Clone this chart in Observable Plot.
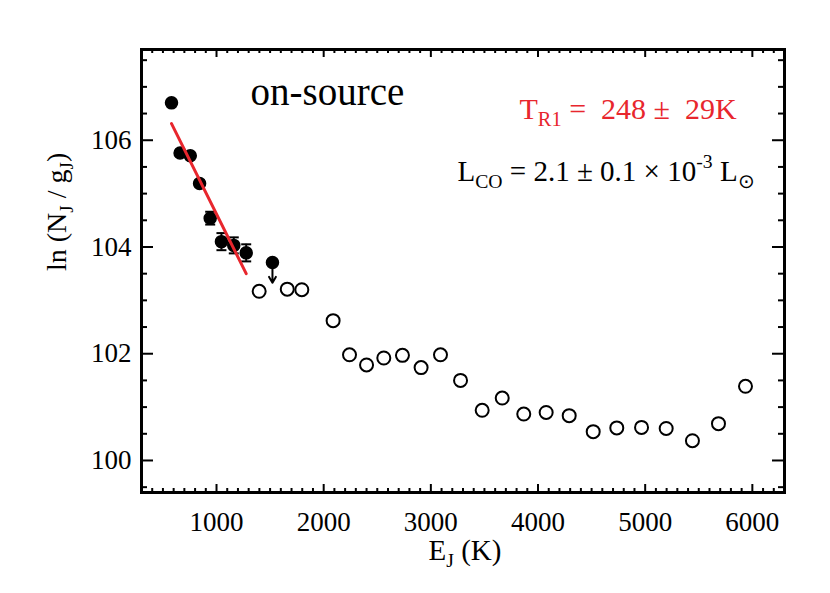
<!DOCTYPE html>
<html><head><meta charset="utf-8">
<script src="https://cdn.jsdelivr.net/npm/d3@7"></script>
<script src="https://cdn.jsdelivr.net/npm/@observablehq/plot@0.6"></script>
<style>body{margin:0;background:#fff}</style>
</head><body><div id="chart"></div>
<script>
// Detected lines (filled) with error bars
const detX = [580, 660, 755, 842, 941, 1046, 1161, 1277];
const detY = [106.70, 105.76, 105.71, 105.19, 104.54, 104.10, 104.03, 103.89];
const detErr = [0.04, 0.04, 0.04, 0.06, 0.12, 0.16, 0.15, 0.16];
// Upper limit point
const limX = [1522];
const limY = [103.71];
const limTo = [103.33];
// Open circles
const openX = [1398, 1660, 1796, 2088, 2241, 2400, 2561, 2735, 2909, 3090, 3277, 3479, 3666, 3867, 4076, 4291, 4515, 4735, 4966, 5196, 5441, 5684, 5936];
const openY = [103.17, 103.21, 103.20, 102.62, 101.98, 101.79, 101.92, 101.97, 101.74, 101.98, 101.50, 100.94, 101.17, 100.87, 100.90, 100.84, 100.54, 100.61, 100.62, 100.60, 100.37, 100.69, 101.39];
// Rotational temperature fit
const fitX = [580, 1277];
const fitY = [106.31, 103.50];
// Ticks
const xTicks = [1000, 2000, 3000, 4000, 5000, 6000];
const yTicks = [100, 102, 104, 106];
const xMinor = d3.range(400, 6300, 100).filter(v => v % 1000 !== 0);
const yMinor = d3.range(99.5, 107.6, 0.5).filter(v => v % 2 !== 0);

const det = detX.map((x, i) => ({x, y: detY[i], lo: detY[i] - detErr[i], hi: detY[i] + detErr[i]}));
const lim = limX.map((x, i) => ({x, y: limY[i], y2: limTo[i]}));
const open = openX.map((x, i) => ({x, y: openY[i]}));
const fit = fitX.map((x, i) => ({x, y: fitY[i]}));

const W = 830, H = 593, mL = 141, mR = 46, mT = 49, mB = 101;
const pW = W - mL - mR, pH = H - mT - mB;
const RED = "#e8262d";
const FONT = "'Liberation Serif','Times New Roman',serif";
const cap = {draw(ctx) { ctx.moveTo(-5, 0); ctx.lineTo(5, 0); }};

const chart = Plot.plot({
  width: W, height: H,
  marginLeft: mL, marginRight: mR, marginTop: mT, marginBottom: mB,
  x: {domain: [300, 6300], axis: null},
  y: {domain: [99.4, 107.7], axis: null},
  style: {fontFamily: FONT, background: "white", color: "black"},
  marks: [
    // ticks (inward, all four sides)
    Plot.tickX(xMinor, {x: d => d, insetTop: pH - 4, strokeWidth: 2}),
    Plot.tickX(xMinor, {x: d => d, insetBottom: pH - 4, strokeWidth: 2}),
    Plot.tickX(xTicks, {x: d => d, insetTop: pH - 8, strokeWidth: 2}),
    Plot.tickX(xTicks, {x: d => d, insetBottom: pH - 8, strokeWidth: 2}),
    Plot.tickY(yMinor, {y: d => d, insetRight: pW - 6, strokeWidth: 2}),
    Plot.tickY(yMinor, {y: d => d, insetLeft: pW - 6, strokeWidth: 2}),
    Plot.tickY(yTicks, {y: d => d, insetRight: pW - 12, strokeWidth: 2}),
    Plot.tickY(yTicks, {y: d => d, insetLeft: pW - 12, strokeWidth: 2}),
    // tick labels
    Plot.text(xTicks, {x: d => d, frameAnchor: "bottom", text: d => String(d), dy: 38, lineAnchor: "bottom", fontSize: 27}),
    Plot.text(yTicks, {y: d => d, frameAnchor: "left", text: d => String(d), dx: -10, textAnchor: "end", lineAnchor: "middle", fontSize: 27}),
    // axis titles
    Plot.text(["E_{J} (K)"], {frameAnchor: "bottom", dy: 67, dx: 2, lineAnchor: "bottom", fontSize: 29}),
    Plot.text(["ln (N_{J} / g_{J})"], {frameAnchor: "left", dx: -76, rotate: -90, lineAnchor: "bottom", fontSize: 28}),
    // data
    Plot.dot(det, {x: "x", y: "y", r: 6, fill: "black", stroke: "black"}),
    Plot.ruleX(det, {x: "x", y1: "lo", y2: "hi", strokeWidth: 2}),
    Plot.dot(det, {x: "x", y: "lo", symbol: cap, fill: "none", stroke: "black", strokeWidth: 2}),
    Plot.dot(det, {x: "x", y: "hi", symbol: cap, fill: "none", stroke: "black", strokeWidth: 2}),
    Plot.dot(lim, {x: "x", y: "y", r: 6, fill: "black", stroke: "black"}),
    Plot.arrow(lim, {x1: "x", x2: "x", y1: "y", y2: "y2", strokeWidth: 2, headLength: 9, stroke: "black"}),
    Plot.dot(open, {x: "x", y: "y", r: 6.5, fill: "white", stroke: "black", strokeWidth: 2}),
    Plot.line(fit, {x: "x", y: "y", stroke: RED, strokeWidth: 3}),
    // annotations
    Plot.text(["on-source"], {frameAnchor: "top-left", dx: 109, dy: 55, textAnchor: "start", lineAnchor: "bottom", fontSize: 39}),
    Plot.text(["T_{R1} =  248 ±  29K"], {frameAnchor: "top-left", dx: 378, dy: 69, textAnchor: "start", lineAnchor: "bottom", fontSize: 30, fill: RED}),
    Plot.text(["L_{CO} = 2.1 ± 0.1 × 10^{-3} L_{⊙}"], {frameAnchor: "top-left", dx: 316, dy: 131, textAnchor: "start", lineAnchor: "bottom", fontSize: 29}),
    Plot.frame({strokeWidth: 3})
  ]
});
document.getElementById("chart").appendChild(chart);

// turn _{..} and ^{..} markup into real sub/superscript tspans
const NS = "http://www.w3.org/2000/svg";
chart.querySelectorAll("text").forEach(t => {
  const s = t.textContent;
  if (!/[_^]\{/.test(s)) return;
  const fs = parseFloat(getComputedStyle(t).fontSize);
  const re = /([_^])\{([^}]*)\}/g;
  const segs = [];
  let last = 0, m;
  while ((m = re.exec(s))) {
    if (m.index > last) segs.push({k: "n", s: s.slice(last, m.index)});
    segs.push({k: m[1] === "_" ? "sub" : "sup", s: m[2]});
    last = re.lastIndex;
  }
  if (last < s.length) segs.push({k: "n", s: s.slice(last)});
  t.textContent = "";
  t.setAttribute("style", "white-space:pre");
  let shift = 0;
  segs.forEach(g => {
    const ts = document.createElementNS(NS, "tspan");
    const target = g.k === "sub" ? 0.25 * fs : g.k === "sup" ? -0.42 * fs : 0;
    if (target - shift !== 0) ts.setAttribute("dy", (target - shift).toFixed(2));
    shift = target;
    if (g.k !== "n") ts.setAttribute("font-size", (0.68 * fs).toFixed(1));
    ts.textContent = g.s;
    t.appendChild(ts);
  });
});
</script>
</body></html>
